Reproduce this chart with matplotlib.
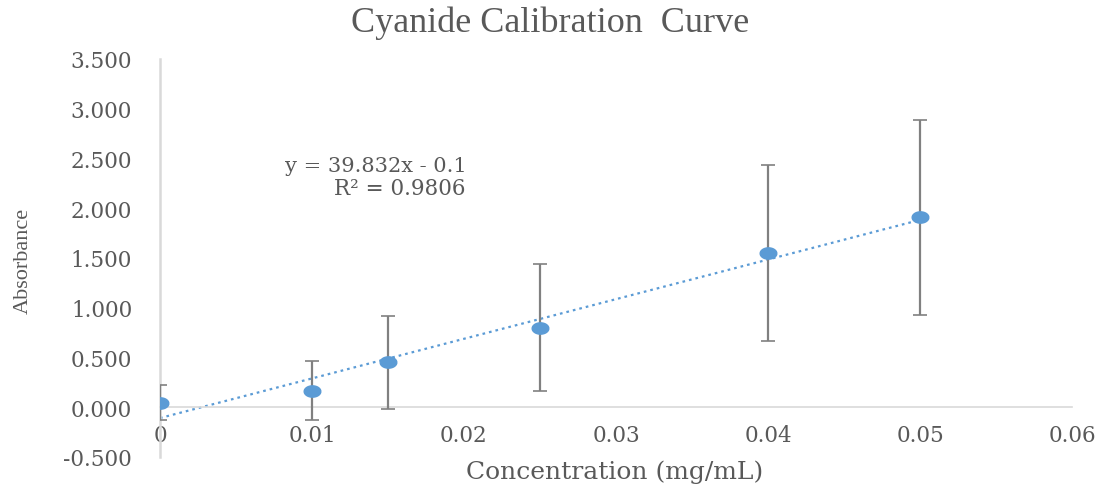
import matplotlib.pyplot as plt
import numpy as np

# data
concentration = [0.0, 0.010, 0.015, 0.025, 0.040, 0.050]
absorbance = [0.047, 0.167, 0.450, 0.800, 1.550, 1.910]
abs_error = [0.177, 0.295, 0.470, 0.635, 0.885, 0.980]

x_ticks = [0, 0.01, 0.02, 0.03, 0.04, 0.05, 0.06]
x_tick_labels = ["0", "0.01", "0.02", "0.03", "0.04", "0.05", "0.06"]
y_ticks = [-0.5, 0.0, 0.5, 1.0, 1.5, 2.0, 2.5, 3.0, 3.5]

blue = "#5B9BD5"
text_gray = "#595959"
axis_gray = "#d9d9d9"
bar_gray = "#808080"

fig = plt.figure(figsize=(11.01, 4.85), dpi=100)
ax = fig.add_axes([0.1453, 0.0557, 0.8284, 0.8206])

# linear trendline through the points
slope, intercept = np.polyfit(concentration, absorbance, 1)
xs = np.array([concentration[0], concentration[-1]])
ax.plot(xs, slope * xs + intercept, color=blue, lw=1.6,
        linestyle=(0, (1.2, 1.8)), dash_capstyle="butt", zorder=2)

ax.errorbar(concentration, absorbance, yerr=abs_error, fmt="none",
            ecolor=bar_gray, elinewidth=1.6, capsize=4.8, capthick=1.2, zorder=3)

# Excel-ish markers look squashed in the reference, use an ellipse
t = np.linspace(0, 2 * np.pi, 40)
ellipse = np.column_stack([np.cos(t), 0.68 * np.sin(t)])
ax.plot(concentration, absorbance, linestyle="none", marker=ellipse,
        markersize=12, color=blue, zorder=4)

ax.set_xlim(0, 0.06)
ax.set_ylim(-0.5, 3.5)

for side in ["top", "right"]:
    ax.spines[side].set_visible(False)
ax.spines["bottom"].set_position(("data", 0))
ax.spines["left"].set_position(("data", 0))
ax.spines["bottom"].set_color(axis_gray)
ax.spines["left"].set_color(axis_gray)
ax.spines["bottom"].set_linewidth(1.2)
ax.spines["left"].set_linewidth(1.8)

tick_font = {"family": "DejaVu Serif", "size": 15.5}
ax.set_xticks(x_ticks)
ax.set_xticklabels(x_tick_labels, fontdict=tick_font, color=text_gray)
ax.set_yticks(y_ticks)
ax.set_yticklabels([f"{v:.3f}" for v in y_ticks], fontdict=tick_font, color=text_gray)
ax.tick_params(axis="x", length=0, pad=12)
ax.tick_params(axis="y", length=0, pad=20)

fig.text(0.5, 0.953, "Cyanide Calibration  Curve", ha="center", va="center",
         family="Liberation Serif", size=26, color=text_gray)
fig.text(0.5586, 0.002, "Concentration (mg/mL)", ha="center", va="bottom",
         family="DejaVu Serif", size=18, color=text_gray)
fig.text(0.021, 0.463, "Absorbance", ha="center", va="center", rotation=90,
         family="Liberation Serif", size=16, color=text_gray)

ax.text(0.0142, 2.430, "y = 39.832x - 0.1", ha="center", va="center",
        family="DejaVu Serif", size=15, color=text_gray)
ax.text(0.0158, 2.200, "R² = 0.9806", ha="center", va="center",
        family="DejaVu Serif", size=15.5, color=text_gray)

fig.savefig("out.png", dpi=100)
